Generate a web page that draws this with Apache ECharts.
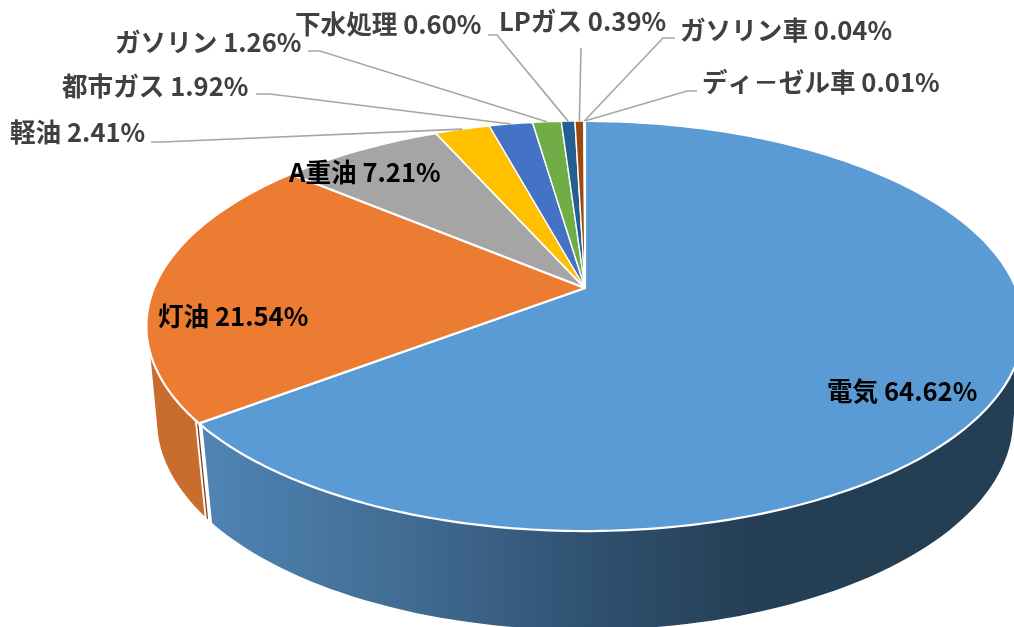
<!DOCTYPE html>
<html>
<head>
<meta charset="utf-8">
<style>
  html, body { margin: 0; padding: 0; background: #fff; }
  #main { width: 1014px; height: 627px; }
</style>
<script src="https://cdn.jsdelivr.net/npm/echarts@6/dist/echarts.min.js"></script>
</head>
<body>
<div id="main"></div>
<script>
// データ
var categories = ['電気', '灯油', 'A重油', '軽油', '都市ガス', 'ガソリン', '下水処理', 'LPガス', 'ガソリン車', 'ディ－ゼル車'];
var shares = [64.62, 21.54, 7.21, 2.41, 1.92, 1.26, 0.60, 0.39, 0.04, 0.01];
var colors = ['#5B9BD5', '#EB7C31', '#A5A5A5', '#FFC000', '#4472C4', '#70AD47', '#255E91', '#9E480E', '#636363', '#997300'];

// ラベル配置 [左端x, 中央y]
var labelPos = [[827, 391], [158, 316], [289, 172], [10, 132], [62, 86], [115, 42], [295, 24], [499, 21], [680, 30], [702, 82]];
// 引き出し線の折れ点 (null は線なし)
var leaderPts = [null, null, null,
  [[151, 142], [162, 142]],
  [[256, 94], [270, 94]],
  [[308, 51], [320, 51]],
  [[488, 35], [497, 35]],
  [[581, 48]],
  [[675, 38], [663, 38]],
  [[697, 91], [687, 91]]
];

// 円盤の形
var apexX = 585, apexY = 288;
var persp = 0.1854, scaleX = 431, scaleY = 198;
var top_ = { cx: 585, cy: 326, rx: 439, ry: 205 };
var bottom_ = { cx: 585, cy: 420, rx: 428, ry: 210 };

function total() {
  var s = 0;
  shares.forEach(function (v) { s += v; });
  return s;
}
function startAngle(i) {
  var s = 0;
  for (var k = 0; k < i; k++) s += shares[k];
  return s / total() * Math.PI * 2;
}
// 上面の円周上の点 (時計回り、真上が0)
function rimPoint(t) {
  var u = Math.sin(t), v = -Math.cos(t);
  var d = 1 - persp * v;
  return [apexX + scaleX * u / d, apexY + scaleY * v / d];
}
// 側面用: 楕円のパラメータ
function ellipseParam(p) {
  var a = Math.atan2((p[1] - top_.cy) / top_.ry, (p[0] - top_.cx) / top_.rx);
  return a;
}
function ellipseArc(e, a0, a1) {
  var pts = [], n = 80;
  for (var i = 0; i <= n; i++) {
    var a = a0 + (a1 - a0) * i / n;
    pts.push([e.cx + e.rx * Math.cos(a), e.cy + e.ry * Math.sin(a)]);
  }
  return pts;
}
function deg(d) { return d * Math.PI / 180; }

function wallPolygon(topA0, topA1, botA0, botA1) {
  return ellipseArc(top_, topA0, topA1).concat(ellipseArc(bottom_, botA1, botA0));
}

function renderWalls(params, api) {
  var split = ellipseParam(rimPoint(startAngle(1)));
  var blueFill = new echarts.graphic.LinearGradient(205, 0, 760, 0, [
    { offset: 0, color: '#4F84B4' },
    { offset: 0.4, color: '#40698F' },
    { offset: 0.72, color: '#2E4F6E' },
    { offset: 1, color: '#243E54' }
  ], true);
  var bw = deg(1.0);
  return {
    type: 'group',
    children: [
      { type: 'polygon', shape: { points: wallPolygon(deg(8), split - bw, deg(2), split - bw) }, style: { fill: blueFill }, silent: true },
      { type: 'polygon', shape: { points: wallPolygon(split + deg(0.1), split + deg(0.5), split + deg(0.1), split + deg(0.5)) }, style: { fill: '#7A4320' }, silent: true },
      { type: 'polygon', shape: { points: wallPolygon(split + deg(1.1), deg(172), split + deg(1.1), deg(176)) }, style: { fill: '#C96D2C' }, silent: true }
    ]
  };
}

function renderSlice(params, api) {
  var i = params.dataIndex;
  var t0 = startAngle(i);
  var t1 = t0 + api.value(0) / total() * Math.PI * 2;
  var pts = [[apexX, apexY]];
  var n = Math.max(2, Math.ceil((t1 - t0) * 60));
  for (var k = 0; k <= n; k++) {
    pts.push(rimPoint(t0 + (t1 - t0) * k / n));
  }
  return {
    type: 'polygon',
    shape: { points: pts },
    style: { fill: colors[i], stroke: '#fff', lineWidth: shares[i] > 5 ? 2.2 : 1.4, lineJoin: 'round' }
  };
}

function renderLabel(params, api) {
  var i = params.dataIndex;
  var children = [];
  if (leaderPts[i]) {
    var mid = startAngle(i) + api.value(0) / total() * Math.PI;
    children.push({
      type: 'polyline',
      shape: { points: leaderPts[i].concat([rimPoint(mid)]) },
      style: { fill: null, stroke: '#A6A6A6', lineWidth: 1.6 },
      silent: true
    });
  }
  children.push({
    type: 'text',
    style: {
      x: labelPos[i][0],
      y: labelPos[i][1],
      text: categories[i] + ' ' + api.value(0).toFixed(2) + '%',
      fill: i < 3 ? '#000000' : '#404040',
      font: 'bold 25.6px "Noto Sans CJK JP", sans-serif',
      textAlign: 'left',
      textVerticalAlign: 'middle'
    }
  });
  return { type: 'group', children: children };
}

var chart = echarts.init(document.getElementById('main'), null, { renderer: 'canvas' });
var seriesData = shares.map(function (v) { return [v]; });

chart.setOption({
  animation: false,
  backgroundColor: '#fff',
  series: [
    { type: 'custom', coordinateSystem: 'none', name: '側面', renderItem: renderWalls, data: [[1]], z: 1, silent: true },
    { type: 'custom', coordinateSystem: 'none', name: '上面', renderItem: renderSlice, data: seriesData, z: 2 },
    { type: 'custom', coordinateSystem: 'none', name: 'ラベル', renderItem: renderLabel, data: seriesData, z: 3, silent: true }
  ]
});
</script>
</body>
</html>
